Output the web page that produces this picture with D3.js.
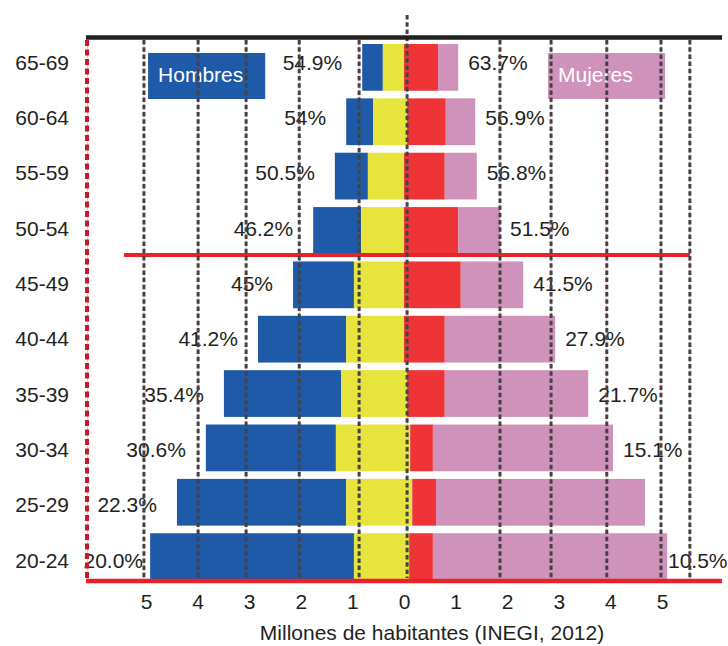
<!DOCTYPE html>
<html>
<head>
<meta charset="utf-8">
<script src="https://cdn.jsdelivr.net/npm/d3@7"></script>
<style>
  html, body { margin: 0; padding: 0; background: #fff; }
  svg { display: block; }
  text { font-family: "Liberation Sans", Arial, sans-serif; fill: #231f20; }
</style>
</head>
<body>
<svg id="chart" width="728" height="646"></svg>
<script>
// ---- data (millions of inhabitants, INEGI 2012) ----
const ages = ["20-24","25-29","30-34","35-39","40-44","45-49","50-54","55-59","60-64","65-69"];
const maleTotal   = [4.92, 4.40, 3.84, 3.49, 2.83, 2.15, 1.76, 1.34, 1.12, 0.81];
const maleInner   = [0.97, 1.12, 1.32, 1.22, 1.12, 0.97, 0.83, 0.70, 0.60, 0.41];
const innerShift  = [0.10, 0.16, 0.12, 0.06, 0.00, 0.00, 0.00, 0.00, 0.06, 0.00];
const femaleInner = [0.56, 0.62, 0.56, 0.79, 0.79, 1.10, 1.05, 0.79, 0.81, 0.66];
const femaleTotal = [5.10, 4.67, 4.05, 3.57, 2.93, 2.31, 1.86, 1.41, 1.38, 1.05];
const malePct   = ["20.0%","22.3%","30.6%","35.4%","41.2%","45%","46.2%","50.5%","54%","54.9%"];
const femalePct = ["10.5%", null, "15.1%","21.7%","27.9%","41.5%","51.5%","56.8%","56.9%","63.7%"];
const tickValues = [-5,-4,-3,-2,-1,0,1,2,3,4,5];
const gridAt = [-5.04,-3.99,-3.06,-2.03,-0.87,0.06,1.86,2.85,3.93,4.98,5.54];
const legendLabels = ["Hombres","Mujeres"];
const axisTitle = "Millones de habitantes (INEGI, 2012)";

const FS = "21px";
const C = { blue:"#1e5aa8", yellow:"#e8e43e", red:"#ef3437", pink:"#cf93bb",
            line:"#e8222b", dash:"#444244", border:"#c41a2c", thin:"#f3c4cc" };

const svg = d3.select("#chart");
svg.append("rect").attr("width",728).attr("height",646).attr("fill","#fff");

const x = d3.scaleLinear().domain([-5,5]).range([146,662]);
const y = d3.scaleBand().domain(ages.slice().reverse()).range([44,580]).paddingInner(0.14).paddingOuter(0);
const yl = d3.scalePoint().domain(ages.slice().reverse()).range([62,560]);
const bw = y.bandwidth();

const rows = ages.map((a,i)=>({age:a, mt:maleTotal[i], mi:maleInner[i], sh:innerShift[i],
  fi:femaleInner[i], ft:femaleTotal[i], mp:malePct[i], fp:femalePct[i]}));

// thin pink guide lines
svg.append("g").selectAll("line").data(gridAt).join("line")
  .attr("x1",d=>x(d)).attr("x2",d=>x(d)).attr("y1",40).attr("y2",580)
  .attr("stroke",C.thin).attr("stroke-width",1);
svg.append("line").attr("x1",87.5).attr("x2",87.5).attr("y1",40).attr("y2",580)
  .attr("stroke",C.thin).attr("stroke-width",1);

// bars
const g = svg.append("g");
const seg = (cls, x0, x1, color) => g.selectAll("rect."+cls).data(rows).join("rect")
  .attr("class",cls)
  .attr("x",d=>x(x0(d))).attr("width",d=>Math.max(0,x(x1(d))-x(x0(d))))
  .attr("y",d=>y(d.age)).attr("height",bw).attr("fill",color);
seg("blue",  d=>-d.mt, d=>-d.mi, C.blue);
seg("yellow",d=>-d.mi, d=>d.sh, C.yellow);
seg("red",   d=>d.sh,  d=>d.fi, C.red);
seg("pink",  d=>d.fi,  d=>d.ft, C.pink);

// legend boxes
const legend = svg.append("g");
const legItems = [{t:legendLabels[0], x0:-4.96, x1:-2.69, c:C.blue},
                  {t:legendLabels[1], x0:2.79, x1:5.06, c:C.pink}];
legend.selectAll("rect").data(legItems).join("rect")
  .attr("x",d=>x(d.x0)).attr("width",d=>x(d.x1)-x(d.x0))
  .attr("y",53).attr("height",46).attr("fill",d=>d.c);
legend.selectAll("text").data(legItems).join("text")
  .attr("x",d=>x(d.x0)+10).attr("y",82).text(d=>d.t)
  .style("fill","#fff").style("font-size",FS);

// age labels
svg.append("g").selectAll("text").data(rows).join("text")
  .attr("x",69).attr("y",d=>yl(d.age)).attr("dy","0.36em")
  .attr("text-anchor","end").style("font-size",FS).text(d=>d.age);

// percentage labels
svg.append("g").selectAll("text").data(rows).join("text")
  .attr("x",d=>Math.max(x(-d.mt)-20, 143)).attr("y",d=>yl(d.age)).attr("dy","0.36em")
  .attr("text-anchor","end").style("font-size",FS).text(d=>d.mp);
svg.append("g").selectAll("text").data(rows.filter(d=>d.fp)).join("text")
  .attr("x",d=>Math.min(x(d.ft)+10, 668)).attr("y",d=>yl(d.age)).attr("dy","0.36em")
  .attr("text-anchor","start").style("font-size",FS).text(d=>d.fp);

// red lines
svg.append("line").attr("x1",124).attr("x2",690).attr("y1",255).attr("y2",255)
  .attr("stroke",C.line).attr("stroke-width",4);
svg.append("line").attr("x1",86).attr("x2",722).attr("y1",581).attr("y2",581)
  .attr("stroke",C.line).attr("stroke-width",4.5);
svg.append("line").attr("x1",87).attr("x2",87).attr("y1",40).attr("y2",580)
  .attr("stroke",C.border).attr("stroke-width",4).attr("stroke-dasharray","6,3.5");

// dashed grid lines
svg.append("g").selectAll("line").data(gridAt).join("line")
  .attr("x1",d=>x(d)).attr("x2",d=>x(d))
  .attr("y1",d=>Math.abs(d-0.06)<1e-6 ? 15 : 40).attr("y2",578)
  .attr("stroke",C.dash).attr("stroke-width",3).attr("stroke-dasharray","4.5,2.7");

// top black line
svg.append("line").attr("x1",86).attr("x2",722).attr("y1",37.5).attr("y2",37.5)
  .attr("stroke","#231f20").attr("stroke-width",4.5);

// x axis
const ax = svg.append("g").attr("transform","translate(0,584)")
  .call(d3.axisBottom(x).tickValues(tickValues).tickSize(0).tickPadding(10)
        .tickFormat(d=>Math.abs(d)));
ax.select(".domain").remove();
ax.selectAll("text").style("font-size",FS).style("font-family","'Liberation Sans', Arial, sans-serif").attr("fill","#231f20");

svg.append("text").attr("x",432).attr("y",640).attr("text-anchor","middle")
  .style("font-size",FS).text(axisTitle);
</script>
</body>
</html>
